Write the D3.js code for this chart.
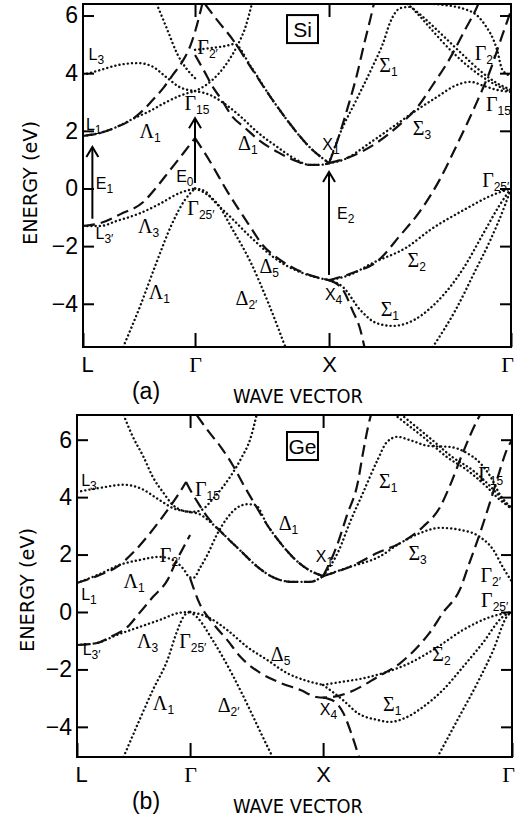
<!DOCTYPE html>
<html>
<head>
<meta charset="utf-8">
<script src="https://cdn.jsdelivr.net/npm/d3@7"></script>
<style>
  body { margin: 0; background: #fff; }
</style>
</head>
<body>
<svg id="chart" width="516" height="820"></svg>
<script>
// symmetry points along the path (units: Gamma-X = 1), tick values, energy windows
var symLabels = ['L', 'Γ', 'X', 'Γ'];
var siSym = [0, 0.836, 1.836, 3.194];
var geSym = [0, 0.85, 1.85, 3.27];
var energyTicks = [-4, -2, 0, 2, 4, 6];
var siRange = [-5.5, 6.4];
var geRange = [-5.05, 6.86];

// ---- Si bands, [k, E(eV)] ----
var siDotL3 = [[0, 3.94], [0.13, 4.11], [0.26, 4.28], [0.41, 4.35], [0.51, 4.25], [0.63, 3.83], [0.72, 3.52], [0.836, 3.38]];
var siDotLambda1 = [[0, 1.82], [0.13, 1.93], [0.25, 2.13], [0.37, 2.41], [0.50, 2.69], [0.61, 2.97], [0.72, 3.21], [0.836, 3.38]];
var siDashL1 = [[0, 1.82], [0.13, 1.93], [0.25, 2.13], [0.37, 2.41], [0.45, 2.72], [0.52, 3.07], [0.60, 3.49], [0.67, 3.94], [0.74, 4.39], [0.80, 4.94], [0.84, 5.50], [0.87, 6.02], [0.89, 6.40]];
var siDotUpL = [[0.55, 6.40], [0.63, 5.50], [0.70, 4.70], [0.78, 4.11], [0.836, 3.83]];
var siDotUpR = [[0.836, 3.38], [0.93, 3.63], [1.01, 3.97], [1.08, 4.39], [1.15, 4.94], [1.21, 5.57], [1.26, 6.40]];
var siDotG2 = [[0.836, 4.81], [0.95, 4.87], [1.06, 4.94], [1.13, 5.01], [1.25, 4.25], [1.40, 3.17], [1.54, 2.27], [1.69, 1.44], [1.836, 0.88]];
var siDashG2 = [[0.836, 4.63], [0.90, 4.11], [0.96, 3.59], [1.04, 3.04], [1.11, 2.52], [1.21, 2.10], [1.32, 1.65], [1.45, 1.27], [1.57, 0.99], [1.69, 0.82], [1.77, 0.82], [1.836, 0.88]];
var siDotDelta1 = [[0.836, 3.38], [0.95, 3.24], [1.06, 2.93], [1.17, 2.52], [1.30, 1.96], [1.45, 1.44], [1.57, 1.06], [1.69, 0.82], [1.77, 0.82], [1.836, 0.88]];
var siDashTop = [[0.91, 6.40], [1.00, 5.85], [1.12, 5.15], [1.25, 4.22], [1.40, 3.17], [1.54, 2.27], [1.69, 1.44], [1.836, 0.88]];
var siDashLeftV = [[0, -1.30], [0.13, -1.20], [0.28, -0.89], [0.45, -0.47], [0.55, 0.05], [0.65, 0.64], [0.75, 1.23], [0.836, 1.75]];
var siDashRightV = [[0.836, 1.75], [0.95, 0.92], [1.07, -0.05], [1.15, -0.64], [1.25, -1.34], [1.34, -1.96], [1.45, -2.41], [1.57, -2.76], [1.69, -3.00], [1.836, -3.18]];
var siDashX4Up = [[1.836, -3.18], [2.03, -2.90], [2.19, -2.55], [2.37, -1.61], [2.51, -0.82], [2.66, 0.29], [2.79, 1.51], [2.93, 2.90], [3.04, 4.11], [3.13, 5.33], [3.19, 6.12]];
var siDashX4Down = [[1.836, -3.18], [1.94, -3.52], [2.01, -4.22], [2.07, -4.91], [2.10, -5.50]];
var siDotLambda3 = [[0, -1.30], [0.13, -1.30], [0.25, -1.13], [0.43, -0.85], [0.57, -0.54], [0.72, -0.16], [0.836, 0]];
var siDotLambda1v = [[0.30, -5.50], [0.43, -4.04], [0.55, -2.55], [0.66, -1.27], [0.76, -0.40], [0.836, 0]];
var siDotDelta5 = [[0.836, 0], [0.91, -0.09], [0.97, -0.40], [1.10, -0.99], [1.25, -1.68], [1.45, -2.48], [1.62, -2.90], [1.73, -3.07], [1.836, -3.18]];
var siDotDelta2 = [[0.836, 0], [0.91, -0.16], [1.01, -0.57], [1.11, -1.37], [1.25, -2.55], [1.38, -3.94], [1.51, -5.50]];
var siDotSigma2 = [[1.836, -3.18], [1.99, -3.00], [2.16, -2.59], [2.42, -2.03], [2.59, -1.44], [2.84, -0.75], [3.04, -0.26], [3.194, 0]];
var siDotSigma1v = [[1.836, -3.18], [1.94, -3.42], [2.07, -4.22], [2.19, -4.67], [2.31, -4.77], [2.42, -4.67], [2.64, -3.94], [2.84, -2.76], [2.99, -1.54], [3.11, -0.57], [3.194, 0]];
var siDotSigmaLow = [[2.61, -5.50], [2.78, -4.22], [2.93, -2.83], [3.04, -1.79], [3.15, -0.57], [3.194, 0]];
var siDashSigma1 = [[1.836, 0.88], [1.90, 1.68], [1.97, 2.72], [2.04, 3.87], [2.10, 5.05], [2.16, 6.19], [2.17, 6.40]];
var siDotSigma1 = [[1.836, 0.88], [1.92, 1.93], [2.04, 3.07], [2.16, 4.22], [2.24, 5.05], [2.29, 5.74], [2.37, 6.26], [2.44, 6.30], [2.49, 6.09], [2.59, 5.57], [2.74, 4.81], [2.89, 4.18], [3.04, 3.70], [3.194, 3.35]];
var siDotSigmaTop = [[2.42, 6.40], [2.53, 5.98], [2.68, 5.33], [2.83, 4.66], [2.97, 4.06], [3.08, 3.68], [3.194, 3.42]];
var siDotG2R = [[2.62, 6.40], [2.87, 6.19], [2.99, 5.74], [3.09, 4.81], [3.13, 4.11], [3.194, 3.90]];
var siDotSigma3 = [[1.836, 0.88], [1.94, 0.99], [2.14, 1.58], [2.31, 2.13], [2.49, 2.72], [2.64, 3.17], [2.79, 3.59], [2.89, 3.70], [2.99, 3.56], [3.09, 3.42], [3.194, 3.35]];
var siDashSigma3 = [[1.836, 0.88], [1.99, 1.09], [2.19, 1.58], [2.37, 2.24], [2.49, 2.79], [2.61, 3.59], [2.74, 4.53], [2.85, 5.50], [2.93, 6.19], [2.95, 6.40]];

// transitions: [k, from E, to E]
var siArrows = [[0.07, -1.05, 1.44], [0.836, 0.19, 2.44], [1.836, -3.0, 0.57]];

// labels: [symbol, subscript, k, E]
var siLabels = [
  ['L', '3', 0.10, 4.62], ['L', '1', 0.08, 2.20], ['Λ', '1', 0.50, 1.93], ['Γ', '2′', 0.93, 4.84],
  ['Γ', '15', 0.85, 2.90], ['Δ', '1', 1.23, 1.51], ['E', '1', 0.16, 0.16], ['E', '0', 0.76, 0.40],
  ['X', '1', 1.85, 1.51], ['Σ', '1', 2.28, 4.22], ['Σ', '3', 2.53, 2.03], ['Γ', '2′', 3.00, 4.63],
  ['Γ', '15', 3.10, 2.86], ['Γ', '25′', 3.08, 0.23], ['Γ', '25′', 0.88, -0.75], ['L', '3′', 0.16, -1.58],
  ['Λ', '3', 0.49, -1.37], ['Λ', '1', 0.57, -3.66], ['Δ', '2′', 1.22, -3.87], ['E', '2', 1.96, -0.88],
  ['Δ', '5', 1.39, -2.76], ['Σ', '2', 2.49, -2.55], ['X', '4', 1.87, -3.70], ['Σ', '1', 2.29, -4.25]
];

// ---- Ge bands ----
var geDotL3 = [[0, 4.18], [0.17, 4.32], [0.35, 4.43], [0.47, 4.32], [0.62, 3.90], [0.72, 3.62], [0.85, 3.48], [0.92, 3.41], [1.00, 3.14], [1.08, 2.80], [1.23, 2.13], [1.35, 1.60], [1.47, 1.22], [1.62, 1.05], [1.75, 1.05], [1.85, 1.25]];
var geDashL1Up = [[0, 1.01], [0.17, 1.29], [0.30, 1.57], [0.42, 2.06], [0.55, 2.75], [0.68, 3.55], [0.77, 4.15], [0.82, 4.53]];
var geDashL1Down = [[0.82, 4.53], [0.86, 4.18], [0.91, 3.80], [0.98, 3.31], [1.08, 2.80], [1.23, 2.13], [1.35, 1.60], [1.47, 1.22], [1.62, 1.05], [1.75, 1.05], [1.85, 1.25]];
var geDotLambda1 = [[0, 1.01], [0.17, 1.32], [0.32, 1.64], [0.47, 1.81], [0.62, 1.92], [0.72, 1.81], [0.80, 1.50], [0.85, 1.20], [0.88, 1.20], [0.92, 1.50], [0.98, 1.99], [1.05, 2.68], [1.13, 3.28], [1.20, 3.62], [1.28, 3.75], [1.34, 3.73], [1.43, 3.03], [1.53, 2.40], [1.62, 1.92], [1.73, 1.50], [1.85, 1.25]];
var geDashTop = [[0.90, 6.86], [0.98, 6.34], [1.08, 5.75], [1.17, 5.12], [1.26, 4.36], [1.34, 3.73], [1.43, 3.03], [1.53, 2.40], [1.62, 1.92], [1.73, 1.50], [1.85, 1.25]];
var geDotTopL = [[0.35, 6.86], [0.42, 6.10], [0.50, 5.40], [0.57, 4.70], [0.65, 4.15], [0.72, 3.73], [0.80, 3.52], [0.85, 3.48]];
var geDotTopR = [[0.85, 3.48], [0.92, 3.52], [1.04, 4.04], [1.15, 4.70], [1.24, 5.40], [1.30, 5.99], [1.35, 6.86]];
var geDashL3p = [[0, -1.15], [0.15, -1.08], [0.25, -0.87], [0.38, -0.52], [0.47, -0.03], [0.57, 0.52], [0.68, 1.11], [0.75, 1.81], [0.81, 2.33], [0.85, 2.68]];
var geDashG2 = [[0.85, 1.18], [0.92, 0.31], [1.02, -0.38], [1.13, -0.98], [1.23, -1.57], [1.38, -2.13], [1.53, -2.47], [1.68, -2.72], [1.80, -2.96], [1.85, -2.98], [1.92, -2.96], [2.05, -2.79], [2.26, -2.26], [2.43, -1.78], [2.56, -1.22], [2.65, -0.73], [2.75, -0.03], [2.88, 0.80], [2.95, 1.71], [3.03, 2.75], [3.11, 3.90], [3.18, 4.95], [3.23, 5.64], [3.27, 5.99]];
var geDashX4Down = [[1.85, -2.98], [1.93, -3.10], [2.00, -3.50], [2.06, -4.20], [2.12, -5.05]];
var geDotLambda3 = [[0, -1.15], [0.15, -1.08], [0.30, -0.80], [0.47, -0.52], [0.62, -0.28], [0.77, -0.03], [0.85, 0]];
var geDotLambda1v = [[0.35, -5.05], [0.47, -3.76], [0.57, -2.72], [0.68, -1.67], [0.75, -0.70], [0.81, -0.10], [0.85, 0]];
var geDotDelta2 = [[0.85, 0], [0.90, -0.17], [1.02, -0.98], [1.17, -2.20], [1.30, -3.41], [1.39, -4.29], [1.47, -5.05]];
var geDotDelta5 = [[0.85, 0], [0.98, -0.17], [1.13, -0.63], [1.28, -1.22], [1.43, -1.67], [1.58, -2.13], [1.73, -2.40], [1.85, -2.54]];
var geDotSigma2 = [[1.85, -2.54], [1.98, -2.44], [2.13, -2.33], [2.30, -2.13], [2.50, -1.78], [2.71, -1.22], [2.90, -0.63], [3.11, -0.17], [3.27, 0]];
var geDotSigma1v = [[1.85, -2.54], [2.00, -3.07], [2.11, -3.52], [2.26, -3.76], [2.35, -3.83], [2.48, -3.66], [2.60, -3.31], [2.75, -2.72], [2.90, -1.92], [3.05, -1.08], [3.20, -0.17], [3.27, 0]];
var geDotSigmaLow = [[2.71, -5.05], [2.86, -3.76], [3.01, -2.47], [3.13, -1.32], [3.23, -0.17], [3.27, 0]];
var geDashSigma1 = [[1.85, 1.25], [1.95, 2.26], [2.03, 3.38], [2.11, 4.49], [2.15, 5.54], [2.20, 6.69], [2.21, 6.86]];
var geDotSigma1 = [[1.85, 1.25], [1.97, 2.16], [2.05, 3.10], [2.15, 4.15], [2.26, 5.30], [2.33, 5.92], [2.41, 6.10], [2.50, 5.99], [2.65, 5.78], [2.80, 5.75], [2.93, 5.54], [3.03, 5.19], [3.11, 4.70], [3.18, 4.08], [3.27, 3.62]];
var geDotSigTopA = [[2.41, 6.79], [2.63, 5.99], [2.78, 5.40], [2.93, 4.95], [3.08, 4.36], [3.18, 3.90], [3.27, 3.62]];
var geDotSigTopB = [[2.46, 6.79], [2.67, 5.99], [2.82, 5.40], [2.97, 4.95], [3.11, 4.36], [3.20, 3.90], [3.27, 3.55]];
var geDotSigma3 = [[1.85, 1.25], [2.05, 1.57], [2.27, 1.92], [2.43, 2.40], [2.58, 2.75], [2.73, 2.93], [2.88, 2.86], [3.03, 2.61], [3.13, 2.16], [3.20, 1.57], [3.27, 1.05]];
var geDashSigma3 = [[1.85, 1.25], [2.05, 1.57], [2.26, 2.06], [2.43, 2.40], [2.60, 2.96], [2.73, 3.66], [2.80, 4.36], [2.90, 5.54], [3.01, 6.69], [3.03, 6.86]];

var geLabels = [
  ['L', '3', 0.09, 4.56], ['Γ', '15', 0.98, 4.22], ['Γ', '2′', 0.70, 1.92], ['Λ', '1', 0.43, 1.01],
  ['L', '1', 0.09, 0.59], ['Σ', '1', 2.34, 4.49], ['Γ', '15', 3.11, 4.74], ['Δ', '1', 1.59, 3.03],
  ['X', '1', 1.86, 1.92], ['Σ', '3', 2.56, 1.99], ['Γ', '2′', 3.11, 1.22], ['Γ', '25′', 3.14, 0.36],
  ['L', '3′', 0.11, -1.32], ['Λ', '3', 0.53, -1.08], ['Γ', '25′', 0.87, -1.08], ['Λ', '1', 0.65, -3.24],
  ['Δ', '2′', 1.14, -3.31], ['Δ', '5', 1.53, -1.53], ['Σ', '2', 2.74, -1.53], ['X', '4', 1.89, -3.41],
  ['Σ', '1', 2.37, -3.28]
];

var siDotted = [siDotL3, siDotLambda1, siDotUpL, siDotUpR, siDotG2, siDotDelta1, siDotLambda3, siDotLambda1v,
  siDotDelta5, siDotDelta2, siDotSigma2, siDotSigma1v, siDotSigmaLow, siDotSigma1, siDotSigmaTop, siDotG2R, siDotSigma3];
var siDashed = [siDashL1, siDashG2, siDashTop, siDashLeftV, siDashRightV, siDashX4Up, siDashX4Down, siDashSigma1, siDashSigma3];
var geDotted = [geDotL3, geDotLambda1, geDotTopL, geDotTopR, geDotLambda3, geDotLambda1v, geDotDelta2, geDotDelta5,
  geDotSigma2, geDotSigma1v, geDotSigmaLow, geDotSigma1, geDotSigTopA, geDotSigTopB, geDotSigma3];
var geDashed = [geDashL1Up, geDashL1Down, geDashTop, geDashL3p, geDashG2, geDashX4Down, geDashSigma1, geDashSigma3];

var sans = '"Liberation Sans", Arial, sans-serif';
var narrow = '"Liberation Sans Narrow", "DejaVu Sans Condensed", "Liberation Sans", sans-serif';
var serif = '"Liberation Serif", "DejaVu Serif", serif';

var panels = [
  {name: 'Si', tag: '(a)', sym: siSym, range: siRange, dotted: siDotted, dashed: siDashed, labels: siLabels, arrows: siArrows,
   left: 83, right: 511, top: 4, bottom: 347, boxK: 1.638, boxE: 5.53, yTitle: 183, xTitle: 37},
  {name: 'Ge', tag: '(b)', sym: geSym, range: geRange, dotted: geDotted, dashed: geDashed, labels: geLabels, arrows: [],
   left: 77, right: 512, top: 415, bottom: 757, boxK: 1.695, boxE: 5.78, yTitle: 590, xTitle: 34}
];

var svg = d3.select('#chart');

panels.forEach(function(p, i) {
  var x = d3.scaleLinear().domain([0, p.sym[3]]).range([p.left, p.right]);
  var y = d3.scaleLinear().domain(p.range).range([p.bottom, p.top]);

  var line = d3.line()
    .x(function(d) { return x(d[0]); })
    .y(function(d) { return y(d[1]); })
    .curve(d3.curveMonotoneX);

  var g = svg.append('g');

  svg.append('clipPath').attr('id', 'clip' + i)
    .append('rect')
      .attr('x', p.left).attr('y', p.top)
      .attr('width', p.right - p.left).attr('height', p.bottom - p.top);

  var curves = g.append('g').attr('clip-path', 'url(#clip' + i + ')');

  curves.selectAll('.dot-band')
      .data(p.dotted)
    .enter().append('path')
      .attr('class', 'dot-band')
      .attr('d', line)
      .attr('fill', 'none')
      .attr('stroke', '#111')
      .attr('stroke-width', 2.4)
      .attr('stroke-linecap', 'round')
      .attr('stroke-dasharray', '0.1 4.1');

  curves.selectAll('.dash-band')
      .data(p.dashed)
    .enter().append('path')
      .attr('class', 'dash-band')
      .attr('d', line)
      .attr('fill', 'none')
      .attr('stroke', '#111')
      .attr('stroke-width', 2.2)
      .attr('stroke-dasharray', '12 6');

  // frame
  g.append('rect')
    .attr('x', p.left).attr('y', p.top)
    .attr('width', p.right - p.left).attr('height', p.bottom - p.top)
    .attr('fill', 'none').attr('stroke', '#000').attr('stroke-width', 2);

  // axes, ticks drawn inward
  var yAxis = d3.axisLeft(y).tickValues(energyTicks).tickSizeInner(-11).tickSizeOuter(0).tickPadding(5);
  var yAxisG = g.append('g').attr('transform', 'translate(' + p.left + ',0)').call(yAxis);
  yAxisG.select('.domain').remove();
  yAxisG.selectAll('line').attr('stroke-width', 2);
  yAxisG.selectAll('text').attr('font-family', sans).attr('font-size', 23).attr('fill', '#000');

  var yAxisR = d3.axisRight(y).tickValues(energyTicks).tickSizeInner(-11).tickSizeOuter(0).tickFormat('');
  var yAxisRG = g.append('g').attr('transform', 'translate(' + p.right + ',0)').call(yAxisR);
  yAxisRG.select('.domain').remove();
  yAxisRG.selectAll('line').attr('stroke-width', 2);

  var xTop = d3.axisTop(x).tickValues([p.sym[1], p.sym[2]]).tickSizeInner(-13).tickSizeOuter(0).tickFormat('');
  var xTopG = g.append('g').attr('transform', 'translate(0,' + p.top + ')').call(xTop);
  xTopG.select('.domain').remove();
  xTopG.selectAll('line').attr('stroke-width', 2);

  var xBottom = d3.axisBottom(x).tickValues(p.sym).tickSizeInner(-14).tickSizeOuter(0).tickPadding(9)
    .tickFormat(function(d, j) { return symLabels[j]; });
  var xBottomG = g.append('g').attr('transform', 'translate(0,' + p.bottom + ')').call(xBottom);
  xBottomG.select('.domain').remove();
  xBottomG.selectAll('line').attr('stroke-width', 2);
  xBottomG.selectAll('text')
    .attr('font-size', 22)
    .attr('fill', '#000')
    .attr('font-family', function(d, j) { return symLabels[j] === 'Γ' ? serif : sans; })
    .attr('dx', function(d, j) { return j === 0 ? 4 : (j === 3 ? -4 : 0); });

  // axis titles
  g.append('text')
    .attr('transform', 'translate(' + p.xTitle + ',' + p.yTitle + ') rotate(-90)')
    .attr('text-anchor', 'middle')
    .attr('font-family', narrow)
    .attr('font-size', 20)
    .attr('textLength', 124)
    .attr('lengthAdjust', 'spacingAndGlyphs')
    .text('ENERGY (eV)');

  g.append('text')
    .attr('x', 146).attr('y', p.bottom + 52)
    .attr('text-anchor', 'middle')
    .attr('font-family', sans)
    .attr('font-size', 23)
    .text(p.tag);

  g.append('text')
    .attr('x', 233).attr('y', p.bottom + 56)
    .attr('font-family', narrow)
    .attr('font-size', 19)
    .attr('textLength', 130)
    .attr('lengthAdjust', 'spacingAndGlyphs')
    .text('WAVE VECTOR');

  // material box
  var bx = x(p.boxK), by = y(p.boxE);
  g.append('rect')
    .attr('x', bx - 15.5).attr('y', by - 14)
    .attr('width', 31).attr('height', 28)
    .attr('fill', '#fff').attr('stroke', '#000').attr('stroke-width', 2);
  g.append('text')
    .attr('x', bx).attr('y', by + 8)
    .attr('text-anchor', 'middle')
    .attr('font-family', sans)
    .attr('font-size', 21)
    .text(p.name);

  // transition arrows
  p.arrows.forEach(function(a) {
    var ax = x(a[0]), y0 = y(a[1]), y1 = y(a[2]);
    g.append('line')
      .attr('x1', ax).attr('x2', ax).attr('y1', y0).attr('y2', y1)
      .attr('stroke', '#000').attr('stroke-width', 2);
    g.append('path')
      .attr('d', 'M' + (ax - 6) + ',' + (y1 + 10) + 'L' + ax + ',' + y1 + 'L' + (ax + 6) + ',' + (y1 + 10))
      .attr('fill', 'none').attr('stroke', '#000').attr('stroke-width', 2);
  });

  // band labels
  p.labels.forEach(function(d) {
    var greek = 'ΓΛΔΣ'.indexOf(d[0]) !== -1;
    var t = g.append('text')
      .attr('x', x(d[2]))
      .attr('y', y(d[3]) + 5)
      .attr('text-anchor', 'middle')
      .attr('font-family', greek ? serif : sans)
      .attr('font-size', greek ? 20 : 16);
    t.append('tspan').text(d[0]);
    t.append('tspan')
      .attr('font-family', sans)
      .attr('font-size', 12)
      .attr('dy', 4)
      .text(d[1]);
  });
});
</script>
</body>
</html>
